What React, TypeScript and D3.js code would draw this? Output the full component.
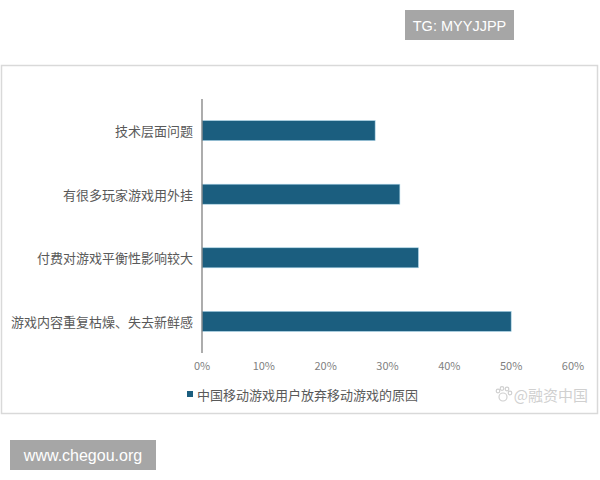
import React from "react";
import * as d3 from "d3";

const categories = ["技术层面问题", "有很多玩家游戏用外挂", "付费对游戏平衡性影响较大", "游戏内容重复枯燥、失去新鲜感"];
const values = [0.28, 0.32, 0.35, 0.50];
const xTicks = [0, 0.1, 0.2, 0.3, 0.4, 0.5, 0.6];
const legendLabel = "中国移动游戏用户放弃移动游戏的原因";
const watermark = "@融资中国";

const FONT = "'Noto Sans CJK SC', 'Noto Sans', sans-serif";

export default function App() {
  const W = 600, H = 480;
  const x = d3.scaleLinear().domain([0, 0.6]).range([202, 573]);
  const y = d3.scaleBand<string>().domain(categories).range([99, 353]).paddingInner(0.685).paddingOuter(0.34);
  const fmt = d3.format(".0%");
  return (
    <svg width={W} height={H} style={{ position: "absolute", left: 0, top: 0 }}>
      <rect x={0} y={0} width={W} height={H} fill="#fff" />
      <rect x={405} y={10} width={109} height={30} fill="#a6a6a6" />
      <text x={459.5} y={31} textAnchor="middle" fill="#fff" fontSize={14.5} fontFamily="'Liberation Sans', Arial, sans-serif">TG: MYYJJPP</text>
      <rect x={1.5} y={65.5} width={596} height={348} fill="#fff" stroke="#d9d9d9" strokeWidth={1.5} />
      {categories.map((c, i) => (
        <g key={c}>
          <rect x={x(0)} y={y(c)} width={x(values[i]) - x(0)} height={y.bandwidth()} fill="#1b5e7f" stroke="#a9d3e6" strokeWidth={0.6} />
          <text x={193} y={(y(c) as number) + y.bandwidth() / 2} textAnchor="end" dominantBaseline="central" fontSize={13} fill="#595959" fontFamily={FONT}>{c}</text>
        </g>
      ))}
      <line x1={202} x2={202} y1={99} y2={353} stroke="#808080" strokeWidth={1.3} />
      {xTicks.map(t => (
        <text key={t} x={x(t)} y={370} textAnchor="middle" fontSize={11} fill="#7f7f7f" fontFamily={FONT}>{fmt(t)}</text>
      ))}
      <rect x={187} y={391} width={6} height={6} fill="#1b5e7f" />
      <text x={197} y={394} dominantBaseline="central" fontSize={13} fill="#595959" fontFamily={FONT}>{legendLabel}</text>
      <g fill="none" stroke="#d0d0d0" strokeWidth={1.2}>
        <circle cx={503} cy={397} r={4} />
        <circle cx={498} cy={391} r={1.8} />
        <circle cx={502} cy={388.5} r={1.8} />
        <circle cx={507} cy={389} r={1.8} />
        <circle cx={510} cy={393} r={1.8} />
      </g>
      <text x={588} y={394} textAnchor="end" dominantBaseline="central" fontSize={15} fill="#d0d0d0" fontFamily={FONT}>{watermark}</text>
      <rect x={10} y={440} width={146} height={30} fill="#a6a6a6" />
      <text x={83} y={461} textAnchor="middle" fill="#fff" fontSize={16} fontFamily="'Liberation Sans', Arial, sans-serif">www.chegou.org</text>
    </svg>
  );
}
